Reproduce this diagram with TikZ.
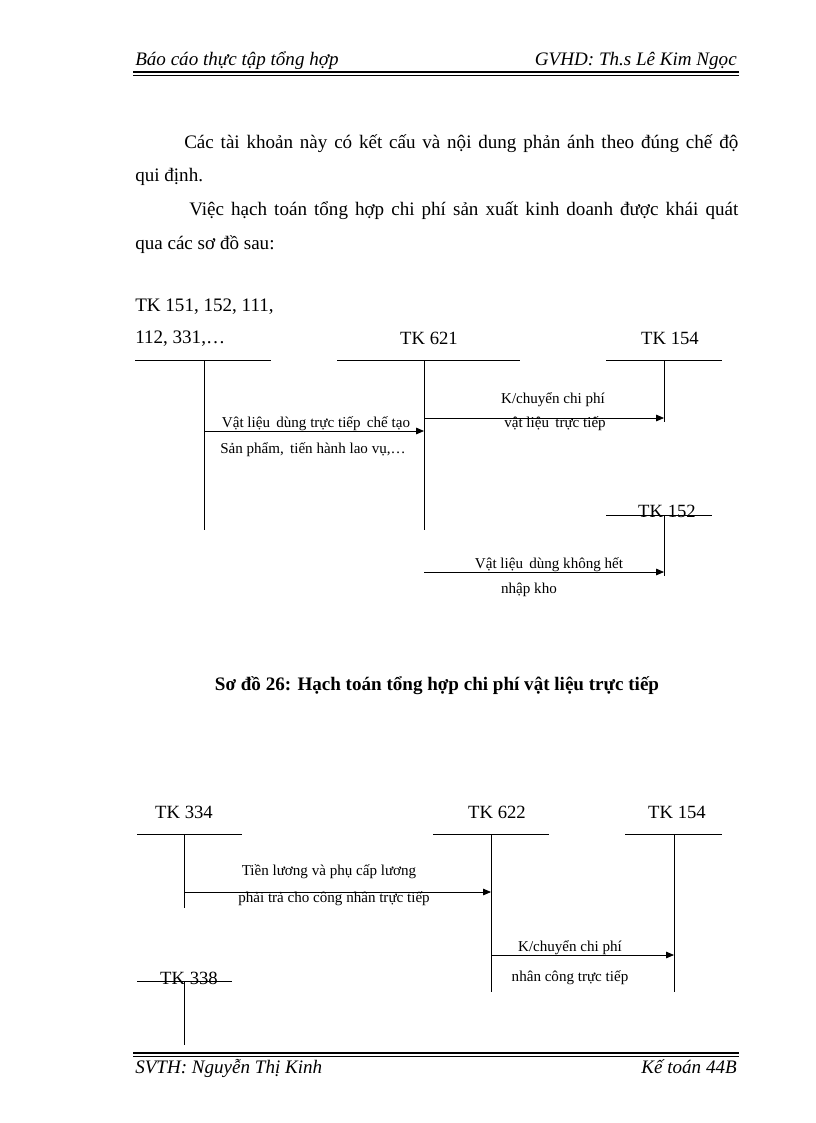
\documentclass[tikz,border=0pt]{standalone}
\usepackage{fontspec}
\setmainfont{Liberation Serif}
\usetikzlibrary{arrows.meta}
\begin{document}
\begin{tikzpicture}[x=0.75pt,y=-0.75pt,
  ln/.style={line width=0.6pt},
  arr/.style={line width=0.6pt,-{Triangle[length=6pt,width=5pt]}},
  tk/.style={font=\fontsize{14}{16}\selectfont,inner sep=0pt},
  lb/.style={font=\fontsize{11.3}{13}\selectfont,inner sep=0pt},
  body/.style={font=\fontsize{14.3}{17}\selectfont,inner sep=0pt,anchor=base west},
  hdr/.style={font=\fontsize{14.3}{16}\selectfont\itshape,inner sep=0pt}]
\useasboundingbox (0,0) rectangle (816,1123);
% header
\node[hdr,anchor=base west] (h1) at (135,66) {Báo cáo thực tập tổng hợp};
\node[hdr,anchor=base east] (h2) at (737,66) {GVHD: Th.s Lê Kim Ngọc};
\draw[line width=1.6pt] (133,72) -- (739,72);
\draw[line width=0.5pt] (133,75.5) -- (739,75.5);
% footer
\draw[line width=1.6pt] (133,1053) -- (739,1053);
\draw[line width=0.5pt] (133,1056.5) -- (739,1056.5);
\node[hdr,anchor=base west] (f1) at (135,1073) {SVTH: Nguyễn Thị Kinh};
\node[hdr,anchor=base east] (f2) at (737,1073) {Kế toán 44B};
% body
\node[body] (b1) at (184,149) {\makebox[554\dimexpr0.75pt][s]{Các tài khoản này có kết cấu và nội dung phản ánh theo đúng chế độ}};
\node[body] (b2) at (135,182) {qui định.};
\node[body] (b3) at (189,216) {\makebox[549\dimexpr0.75pt][s]{Việc hạch toán tổng hợp chi phí sản xuất kinh doanh được khái quát}};
\node[body] (b4) at (135,249) {qua các sơ đồ sau:};
% diagram 1
\node[body] (t1a) at (135,311) {TK 151, 152, 111,};
\node[body] (t1b) at (135,343) {112, 331,…};
\draw[ln] (135,360) coordinate (a1) -- (271,360);
\node[tk] (t621) at (429,338) {TK 621};
\draw[ln] (337,360) -- (520,360);
\node[tk] (t154) at (670,338) {TK 154};
\draw[ln] (606,360) -- (722,360);
\coordinate (v1t) at (204,360); \coordinate (v1b) at (204,530);
\coordinate (v2t) at (424,360); \coordinate (v2b) at (424,530);
\coordinate (v3t) at (664,360); \coordinate (v3b) at (664,422);
\draw[ln] (v1t) -- (v1b); \draw[ln] (v2t) -- (v2b); \draw[ln] (v3t) -- (v3b);
\coordinate (p1) at (204,431); \coordinate (q1) at (424,431);
\draw[arr] (p1) -- (q1);
\node[lb] (l1) at (316,424) {Vật liệu \,dùng trực tiếp \,chế tạo};
\node[lb,anchor=west] (l2) at (220,450) {Sản phẩm, \,tiến hành lao vụ,…};
\coordinate (p2) at (424,418); \coordinate (q2) at (664,418);
\draw[arr] (p2) -- (q2);
\node[lb] (l3) at (553,400) {K/chuyển chi phí};
\node[lb] (l4) at (555,424) {vật liệu \,trực tiếp};
\node[tk] (t152) at (667,511) {TK 152};
\draw[ln] (606,515) -- (712,515);
\coordinate (v4t) at (664,515); \coordinate (v4b) at (664,576);
\draw[ln] (v4t) -- (v4b);
\coordinate (p3) at (424,572); \coordinate (q3) at (664,572);
\draw[arr] (p3) -- (q3);
\node[lb] (l5) at (549,565) {Vật liệu \,dùng không hết};
\node[lb] (l6) at (529,590) {nhập kho};
\node[font=\fontsize{14.3}{17}\selectfont\bfseries,inner sep=0pt] (cap) at (437,686) {Sơ đồ 26: Hạch toán tổng hợp chi phí vật liệu trực tiếp};
% diagram 2
\node[tk] (t334) at (184,812) {TK 334};
\draw[ln] (137,834) -- (242,834);
\node[tk] (t622) at (497,812) {TK 622};
\draw[ln] (433,834) -- (549,834);
\node[tk] (t1542) at (677,812) {TK 154};
\draw[ln] (625,834) -- (722,834);
\coordinate (w1t) at (184,834); \coordinate (w1b) at (184,908);
\coordinate (w2t) at (491,834); \coordinate (w2b) at (491,992);
\coordinate (w3t) at (674,834); \coordinate (w3b) at (674,992);
\draw[ln] (w1t) -- (w1b); \draw[ln] (w2t) -- (w2b); \draw[ln] (w3t) -- (w3b);
\coordinate (r1) at (184,892); \coordinate (s1) at (491,892);
\draw[arr] (r1) -- (s1);
\node[lb] (m1) at (329,872) {Tiền lương và phụ cấp lương};
\node[lb] (m2) at (334,899) {phải trả cho công nhân trực tiếp};
\coordinate (r2) at (491,955); \coordinate (s2) at (674,955);
\draw[arr] (r2) -- (s2);
\node[lb] (m3) at (570,948) {K/chuyển chi phí};
\node[lb] (m4) at (570,978) {nhân công trực tiếp};
\node[tk] (t338) at (189,978) {TK 338};
\draw[ln] (137,981) -- (232,981);
\coordinate (w4t) at (184,981); \coordinate (w4b) at (184,1045);
\draw[ln] (w4t) -- (w4b);
\end{tikzpicture}
\end{document}
